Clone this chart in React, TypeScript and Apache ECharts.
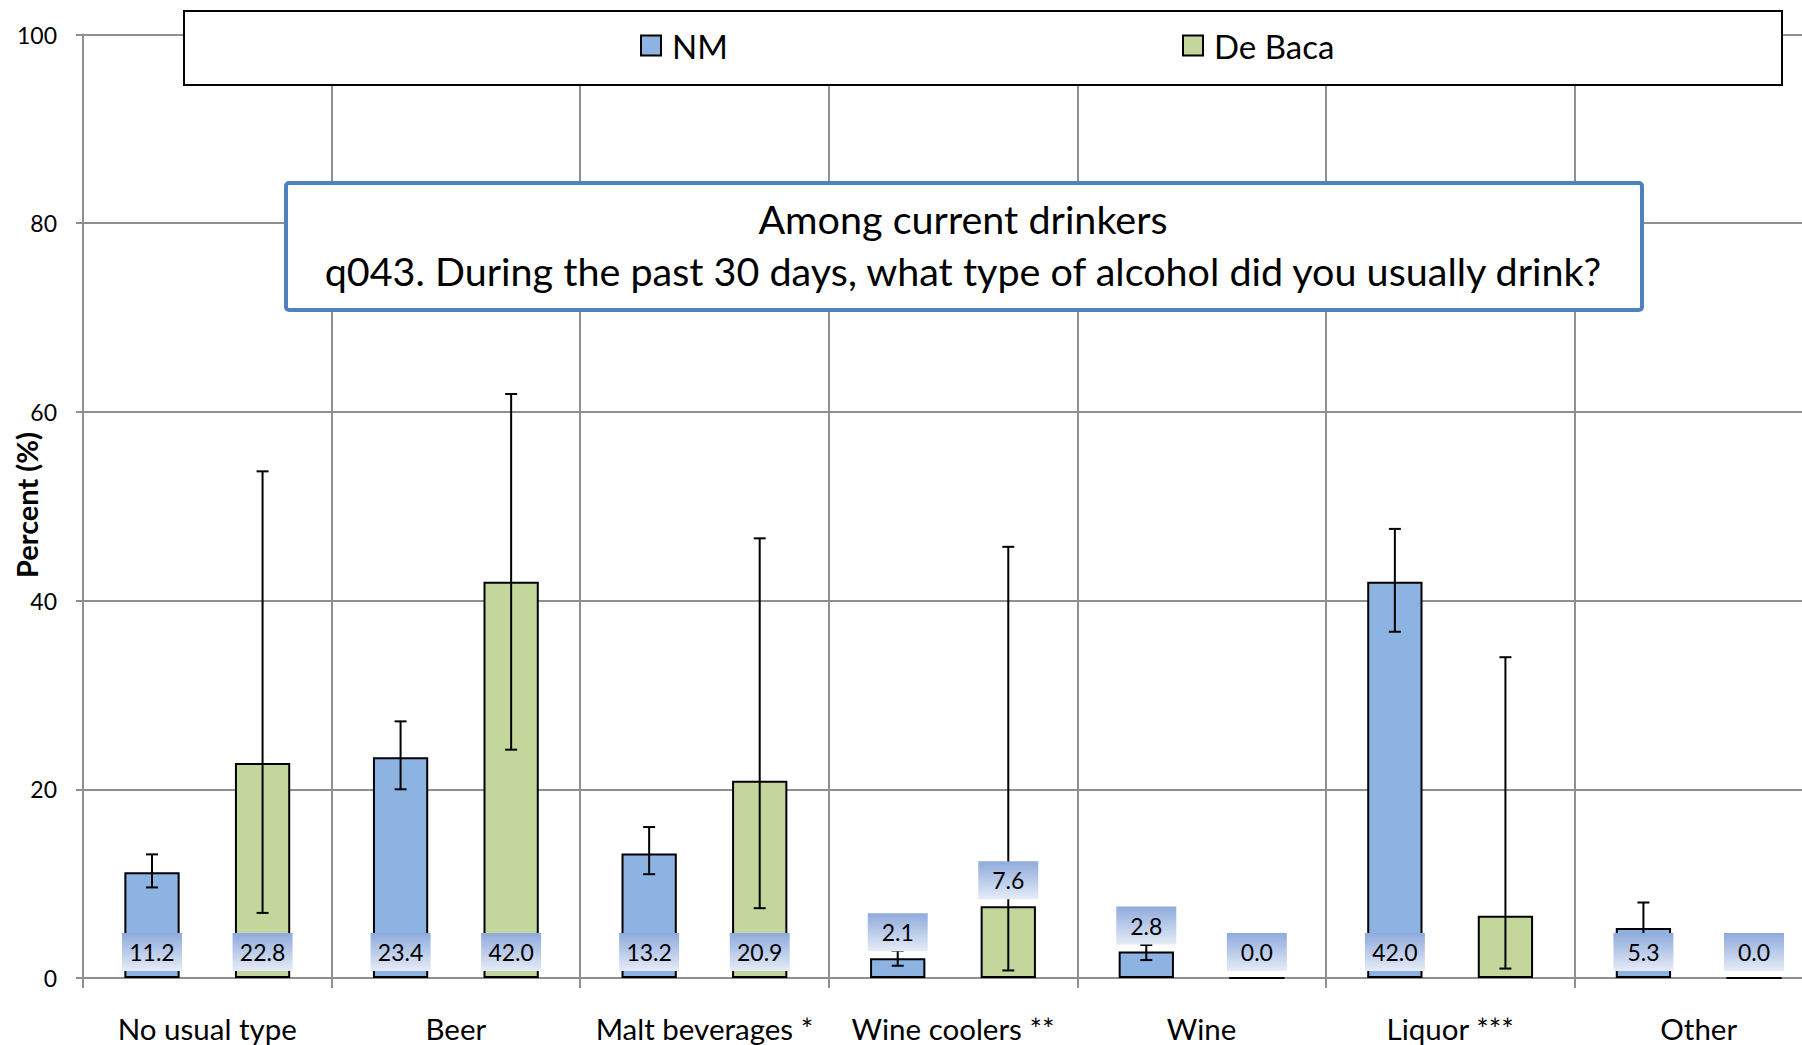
import React, { useEffect, useRef } from "react";
import * as echarts from "echarts";

const categories = ["No usual type", "Beer", "Malt beverages *", "Wine coolers **", "Wine", "Liquor ***", "Other"];
const nmValues = [11.2, 23.4, 13.2, 2.1, 2.8, 42.0, 5.3];
const deBacaValues = [22.8, 42.0, 20.9, 7.6, 0.0, 6.6, 0.0];
const nmLow = [9.6, 20.0, 11.0, 1.3, 1.9, 36.7, 3.4];
const nmHigh = [13.1, 27.2, 16.0, 2.9, 3.5, 47.6, 8.0];
const deBacaLow = [6.9, 24.2, 7.4, 0.8, 0.0, 1.0, 0.0];
const deBacaHigh = [53.7, 61.9, 46.6, 45.7, 0.0, 34.0, 0.0];
// label placement: "bottom" = inside base, "top" = above bar, "" = no label
const nmLabelPos = ["bottom", "bottom", "bottom", "top", "top", "bottom", "bottom"];
const deBacaLabelPos = ["bottom", "bottom", "bottom", "top", "bottom", "", "bottom"];
const yTicks = [0, 20, 40, 60, 80, 100];

const FONT = "Lato";
const BAR_FRAC = 0.2224;
const NM_COLOR = "#8db3e2";
const DB_COLOR = "#c3d69b";
const GRID_COLOR = "#8f8f8f";

export default function App() {
  const ref = useRef<HTMLDivElement>(null);
  useEffect(() => {
    if (!ref.current) return;
    const chart = echarts.init(ref.current, undefined, { renderer: "svg" });

    const errData: number[][] = [];
    nmValues.forEach((_, i) => errData.push([i, nmLow[i], nmHigh[i], -1]));
    deBacaValues.forEach((_, i) => errData.push([i, deBacaLow[i], deBacaHigh[i], 1]));

    const labelData: number[][] = [];
    nmValues.forEach((v, i) => {
      if (nmLabelPos[i]) labelData.push([i, v, -1, nmLabelPos[i] === "top" ? 1 : 0]);
    });
    deBacaValues.forEach((v, i) => {
      if (deBacaLabelPos[i]) labelData.push([i, v, 1, deBacaLabelPos[i] === "top" ? 1 : 0]);
    });

    const legendCommon = {
      top: 24,
      itemWidth: 20,
      itemHeight: 20,
      icon: "rect",
      itemStyle: { borderColor: "#000", borderWidth: 2 },
      textStyle: { fontFamily: FONT, fontSize: 33, color: "#000", padding: [0, 0, 0, 6] },
      z: 120,
    };

    const option: any = {
      animation: false,
      backgroundColor: "#fff",
      grid: { left: 83, top: 34.5, bottom: 67, right: -21, containLabel: false, outerBoundsMode: "none" },
      legend: [
        { ...legendCommon, data: ["NM"], left: 635 },
        { ...legendCommon, data: ["De Baca"], left: 1177 },
      ],
      xAxis: {
        type: "category",
        data: categories,
        boundaryGap: true,
        axisLine: { lineStyle: { color: GRID_COLOR, width: 2 } },
        axisTick: { show: true, length: 10, lineStyle: { color: GRID_COLOR, width: 2 } },
        splitLine: { show: true, lineStyle: { color: GRID_COLOR, width: 2 } },
        axisLabel: { interval: 0, fontFamily: FONT, fontSize: 29.5, color: "#000", margin: 35, lineHeight: 30 },
      },
      yAxis: {
        type: "value",
        min: 0,
        max: 100,
        interval: 20,
        axisLine: { show: true, lineStyle: { color: GRID_COLOR, width: 2 } },
        axisTick: { show: true, length: 7, lineStyle: { color: GRID_COLOR, width: 2 } },
        splitLine: { show: true, lineStyle: { color: GRID_COLOR, width: 2 } },
        axisLabel: {
          fontFamily: FONT,
          fontSize: 23,
          color: "#000",
          margin: 26,
          formatter: (v: number) => (yTicks.includes(v) ? String(v) : ""),
        },
      },
      graphic: [
        {
          type: "text",
          z: 101,
          x: 26,
          y: 505,
          rotation: Math.PI / 2,
          style: {
            text: "Percent (%)",
            x: 0,
            y: 0,
            align: "center",
            verticalAlign: "middle",
            fontFamily: FONT,
            fontSize: 29,
            fontWeight: "bold",
            fill: "#000",
          },
        },
        {
          type: "rect",
          z: 100,
          shape: { x: 184, y: 11, width: 1598, height: 74 },
          style: { fill: "#fff", stroke: "#000", lineWidth: 2 },
        },
        {
          type: "rect",
          z: 100,
          shape: { x: 286, y: 183, width: 1356, height: 127, r: 3 },
          style: { fill: "#fff", stroke: "#4f81bd", lineWidth: 4 },
        },
        {
          type: "text",
          z: 101,
          style: {
            text: "Among current drinkers",
            x: 963,
            y: 218,
            align: "center",
            verticalAlign: "middle",
            fontFamily: FONT,
            fontSize: 39.5,
            fill: "#000",
          },
        },
        {
          type: "text",
          z: 101,
          style: {
            text: "q043. During the past 30 days, what type of alcohol did you usually drink?",
            x: 963,
            y: 270,
            align: "center",
            verticalAlign: "middle",
            fontFamily: FONT,
            fontSize: 39.5,
            fill: "#000",
          },
        },
      ],
      series: [
        {
          name: "NM",
          type: "bar",
          data: nmValues,
          barWidth: `${BAR_FRAC * 100}%`,
          barGap: "100%",
          itemStyle: { color: NM_COLOR, borderColor: "#000", borderWidth: 2 },
          z: 2,
        },
        {
          name: "De Baca",
          type: "bar",
          data: deBacaValues,
          barWidth: `${BAR_FRAC * 100}%`,
          barGap: "100%",
          itemStyle: { color: DB_COLOR, borderColor: "#000", borderWidth: 2 },
          z: 2,
        },
        {
          type: "custom",
          name: "errors",
          data: errData,
          encode: { x: 0, y: [1, 2] },
          z: 5,
          silent: true,
          renderItem: (params: any, api: any) => {
            const cat = api.value(0);
            const low = api.value(1);
            const high = api.value(2);
            const side = api.value(3);
            const band = api.size([1, 0])[0];
            const x = api.coord([cat, 0])[0] + side * band * BAR_FRAC;
            const yl = api.coord([cat, low])[1];
            const yh = api.coord([cat, high])[1];
            const cap = 6;
            const st = { stroke: "#000", lineWidth: 2 };
            return {
              type: "group",
              children: [
                { type: "line", shape: { x1: x, y1: yl, x2: x, y2: yh }, style: st },
                { type: "line", shape: { x1: x - cap, y1: yh, x2: x + cap, y2: yh }, style: st },
                { type: "line", shape: { x1: x - cap, y1: yl, x2: x + cap, y2: yl }, style: st },
              ],
            };
          },
        },
        {
          type: "custom",
          name: "labels",
          data: labelData,
          encode: { x: 0, y: 1 },
          z: 10,
          silent: true,
          renderItem: (params: any, api: any) => {
            const cat = api.value(0);
            const val = api.value(1);
            const side = api.value(2);
            const top = api.value(3);
            const band = api.size([1, 0])[0];
            const x = api.coord([cat, 0])[0] + side * band * BAR_FRAC;
            const y0 = api.coord([cat, 0])[1];
            const yv = api.coord([cat, val])[1];
            const w = 60;
            const h = 38;
            const bottom = top === 1 ? yv - 7 : y0 - 7;
            return {
              type: "group",
              children: [
                {
                  type: "rect",
                  shape: { x: x - w / 2, y: bottom - h, width: w, height: h },
                  style: {
                    fill: new echarts.graphic.LinearGradient(0, 0, 0, 1, [
                      { offset: 0, color: "#8eaadc" },
                      { offset: 1, color: "#e6ecf7" },
                    ]),
                  },
                },
                {
                  type: "text",
                  style: {
                    text: Number(val).toFixed(1),
                    x: x,
                    y: bottom - h / 2,
                    align: "center",
                    verticalAlign: "middle",
                    fontFamily: FONT,
                    fontSize: 23,
                    fill: "#000",
                  },
                },
              ],
            };
          },
        },
      ],
    };
    chart.setOption(option);
    return () => chart.dispose();
  }, []);
  return <div ref={ref} style={{ position: "fixed", left: 0, top: 0, width: 1802, height: 1045 }} />;
}
